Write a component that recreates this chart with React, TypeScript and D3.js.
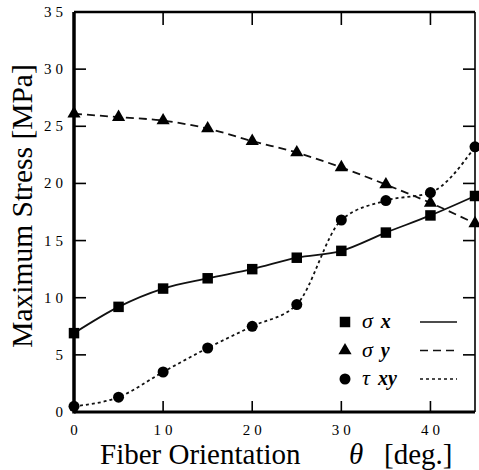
import React, { useEffect, useRef } from "react";
import * as d3 from "d3";

// fiber orientation (deg) and the three stress curves (MPa)
const angles = [0, 5, 10, 15, 20, 25, 30, 35, 40, 45];
const sigmaX = [6.9, 9.2, 10.8, 11.7, 12.5, 13.5, 14.1, 15.7, 17.2, 18.9];
const sigmaY = [26.1, 25.8, 25.5, 24.8, 23.7, 22.7, 21.4, 19.9, 18.3, 16.5];
const tauXY = [0.5, 1.3, 3.5, 5.6, 7.5, 9.4, 16.8, 18.5, 19.2, 23.2];
const xTicks = [0, 10, 20, 30, 40];
const yTicks = [0, 5, 10, 15, 20, 25, 30, 35];

const width = 479;
const height = 470;
const serif = "Liberation Serif, Tinos, DejaVu Serif, serif";

const App = () => {
  const ref = useRef<SVGSVGElement>(null);

  function drawChart() {
    const svg = d3.select(ref.current);
    svg.selectAll("*").remove();

    const x = d3.scaleLinear().domain([0, 45]).range([74, 475]);
    const y = d3.scaleLinear().domain([0, 35]).range([412, 12]);

    const series = [
      { name: "σ", sub: "x", values: sigmaX, symbol: d3.symbolSquare, size: 110, dash: null },
      { name: "σ", sub: "y", values: sigmaY, symbol: d3.symbolTriangle, size: 75, dash: "8,5" },
      { name: "τ", sub: "xy", values: tauXY, symbol: d3.symbolCircle, size: 95, dash: "3,3" },
    ];

    const line = d3
      .line<number>()
      .x((d, i) => x(angles[i]))
      .y((d) => y(d))
      .curve(d3.curveMonotoneX);

    // curves
    series.forEach((s) => {
      svg
        .append("path")
        .attr("d", line(s.values))
        .attr("fill", "none")
        .attr("stroke", "#111")
        .attr("stroke-width", 1.8)
        .attr("stroke-dasharray", s.dash);
    });

    // markers
    series.forEach((s) => {
      svg
        .append("g")
        .selectAll("path")
        .data(s.values)
        .join("path")
        .attr("transform", (d, i) => `translate(${x(angles[i])},${y(d)})`)
        .attr("d", d3.symbol().type(s.symbol).size(s.size)())
        .attr("fill", "#000");
    });

    // frame
    const [x0, x1] = x.range();
    const [y0, y1] = y.range();
    const frame = svg.append("g").attr("stroke", "#000").attr("fill", "none");
    frame.append("line").attr("x1", x0).attr("x2", x0).attr("y1", y0 + 1.5).attr("y2", y1).attr("stroke-width", 3.5);
    frame.append("line").attr("x1", x0).attr("x2", x1).attr("y1", y0).attr("y2", y0).attr("stroke-width", 3);
    frame.append("line").attr("x1", x0).attr("x2", x1).attr("y1", y1).attr("y2", y1).attr("stroke-width", 2.5);
    frame.append("line").attr("x1", x1).attr("x2", x1).attr("y1", y0).attr("y2", y1).attr("stroke-width", 1.6);

    // inward ticks on all four sides
    const tickG = svg.append("g").attr("stroke", "#000").attr("stroke-width", 1.6);
    xTicks.slice(1).forEach((t) => {
      tickG.append("line").attr("x1", x(t)).attr("x2", x(t)).attr("y1", y0).attr("y2", y0 - 11);
      tickG.append("line").attr("x1", x(t)).attr("x2", x(t)).attr("y1", y1).attr("y2", y1 + 13);
    });
    yTicks.slice(1, -1).forEach((t) => {
      tickG.append("line").attr("x1", x0).attr("x2", x0 + 12).attr("y1", y(t)).attr("y2", y(t));
      tickG.append("line").attr("x1", x1).attr("x2", x1 - 12).attr("y1", y(t)).attr("y2", y(t));
    });

    // tick labels
    svg
      .append("g")
      .attr("font-family", serif)
      .attr("font-size", 15)
      .attr("letter-spacing", 4)
      .attr("text-anchor", "middle")
      .selectAll("text")
      .data(xTicks)
      .join("text")
      .attr("x", (d) => x(d) + 2)
      .attr("y", 435)
      .text((d) => d);

    svg
      .append("g")
      .attr("font-family", serif)
      .attr("font-size", 15)
      .attr("letter-spacing", 4)
      .attr("text-anchor", "end")
      .selectAll("text")
      .data(yTicks)
      .join("text")
      .attr("x", 67)
      .attr("y", (d) => y(d) + 5)
      .text((d) => d);

    // axis titles
    const xTitle = svg
      .append("text")
      .attr("font-family", serif)
      .attr("font-size", 29)
      .attr("y", 464);
    xTitle.append("tspan").attr("x", 100).text("Fiber Orientation");
    xTitle.append("tspan").attr("x", 349).attr("font-style", "italic").text("θ");
    xTitle.append("tspan").attr("x", 384).text("[deg.]");

    svg
      .append("text")
      .attr("font-family", serif)
      .attr("font-size", 29.5)
      .attr("text-anchor", "middle")
      .attr("transform", "translate(32,206) rotate(-90)")
      .text("Maximum Stress [MPa]");

    // legend
    const legend = svg.append("g");
    series.forEach((s, i) => {
      const ly = 322 + i * 28.5;
      legend
        .append("path")
        .attr("transform", `translate(345,${ly})`)
        .attr("d", d3.symbol().type(s.symbol).size(s.size)())
        .attr("fill", "#000");
      const t = legend
        .append("text")
        .attr("x", 362)
        .attr("y", ly + 6)
        .attr("font-family", serif)
        .attr("font-size", 22)
        .attr("font-style", "italic");
      t.append("tspan").text(s.name);
      t.append("tspan").attr("dx", 8).attr("font-weight", "bold").attr("font-size", 20).text(s.sub);
      legend
        .append("line")
        .attr("x1", 420)
        .attr("x2", 457)
        .attr("y1", ly)
        .attr("y2", ly)
        .attr("stroke", "#111")
        .attr("stroke-width", 1.6)
        .attr("stroke-dasharray", s.dash);
    });
  }

  useEffect(() => {
    drawChart();
  }, []);

  return (
    <svg
      ref={ref}
      width={width}
      height={height}
      style={{ position: "absolute", left: 0, top: 0, background: "#fff" }}
    ></svg>
  );
};

export default App;
